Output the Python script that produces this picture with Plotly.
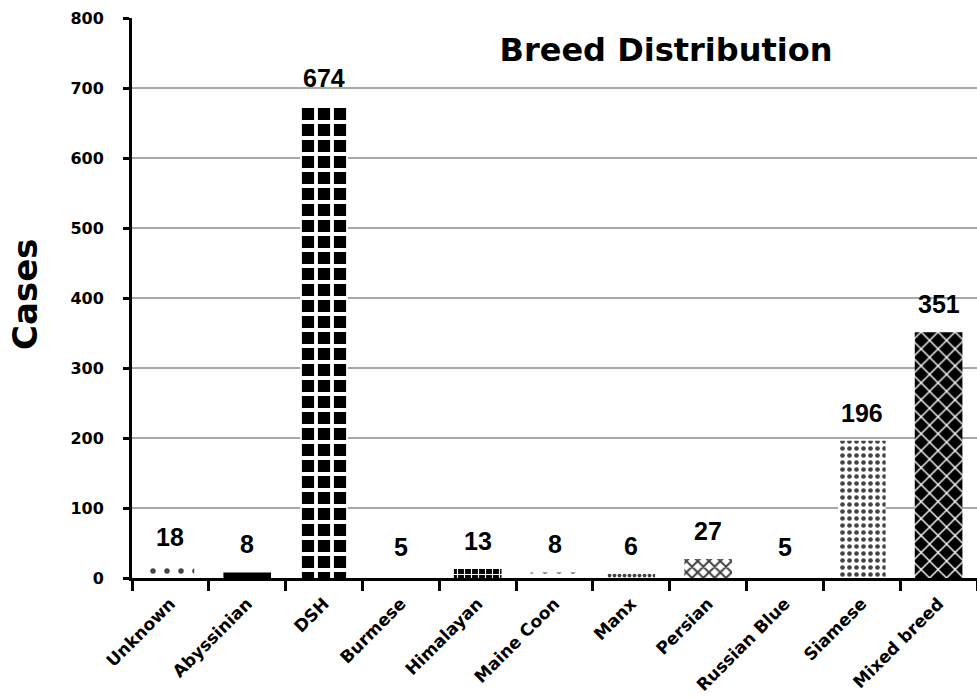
import plotly.graph_objects as go

# Breed counts
breeds = ["Unknown", "Abyssinian", "DSH", "Burmese", "Himalayan", "Maine Coon",
          "Manx", "Persian", "Russian Blue", "Siamese", "Mixed breed"]
cases = [18, 8, 674, 5, 13, 8, 6, 27, 5, 196, 351]

# Fill style for each bar (monochrome hatch patterns drawn over a base colour)
pattern_shapes = [".", "", "+", ".", "+", ".", ".", "x", ".", ".", "x"]
pattern_fg = ["black", "black", "white", "black", "white", "black", "black",
              "black", "black", "black", "white"]
base_color = ["white", "black", "black", "white", "black", "white", "white",
              "white", "white", "white", "black"]
pattern_size = [14, 8, 16, 14, 7, 14, 5, 8, 14, 7, 12]
pattern_solidity = [0.12, 0.5, 0.42, 0.12, 0.3, 0.12, 0.45, 0.45, 0.12, 0.35, 0.22]

AXIS_FONT = "DejaVu Sans"
LABEL_FONT = "Liberation Sans, Arial, sans-serif"

fig = go.Figure(
    go.Bar(
        x=breeds,
        y=cases,
        width=0.62,
        marker=dict(
            color=base_color,
            line=dict(width=0),
            pattern=dict(
                shape=pattern_shapes,
                fgcolor=pattern_fg,
                fgopacity=1,
                size=pattern_size,
                solidity=pattern_solidity,
                fillmode="overlay",
            ),
        ),
        hoverinfo="x+y",
    )
)

# Value labels above each bar
for b, v in zip(breeds, cases):
    fig.add_annotation(
        x=b, y=v, text=str(v), showarrow=False,
        xanchor="center", yanchor="middle", yshift=28,
        font=dict(family=LABEL_FONT, size=25, color="black", weight="bold"),
    )

# Y-axis title
fig.add_annotation(
    xref="paper", yref="paper",
    x=(25 - 132) / 845, y=(578 - 295) / 560,
    text="Cases", textangle=-90, showarrow=False,
    xanchor="center", yanchor="middle",
    font=dict(family=AXIS_FONT, size=34, color="black", weight="bold"),
)

fig.update_layout(
    width=977, height=699,
    margin=dict(l=132, r=0, t=18, b=121, autoexpand=False),
    paper_bgcolor="white", plot_bgcolor="white",
    showlegend=False,
    bargap=0.38,
    title=dict(
        text="Breed Distribution",
        x=666 / 977, xanchor="center",
        y=1 - 50 / 699, yanchor="middle",
        font=dict(family=AXIS_FONT, size=32, color="black", weight="bold"),
    ),
    xaxis=dict(
        type="category",
        tickson="boundaries",
        ticks="outside", ticklen=10, tickwidth=2.5, tickcolor="black",
        showline=True, linewidth=3, linecolor="black",
        showgrid=False,
        tickangle=-45,
        ticklabelstandoff=6,
        tickfont=dict(family=AXIS_FONT, size=17, color="black", weight="bold"),
        automargin=False,
    ),
    yaxis=dict(
        range=[0, 800], dtick=100,
        ticks="outside", ticklen=6, tickwidth=2.5, tickcolor="black",
        showline=True, linewidth=3, linecolor="black",
        showgrid=True, gridcolor="#a8a8a8", gridwidth=1.5,
        zeroline=False,
        ticklabelstandoff=16,
        tickfont=dict(family=AXIS_FONT, size=16, color="black", weight="bold"),
        automargin=False,
    ),
)

fig.write_html("out.html")
